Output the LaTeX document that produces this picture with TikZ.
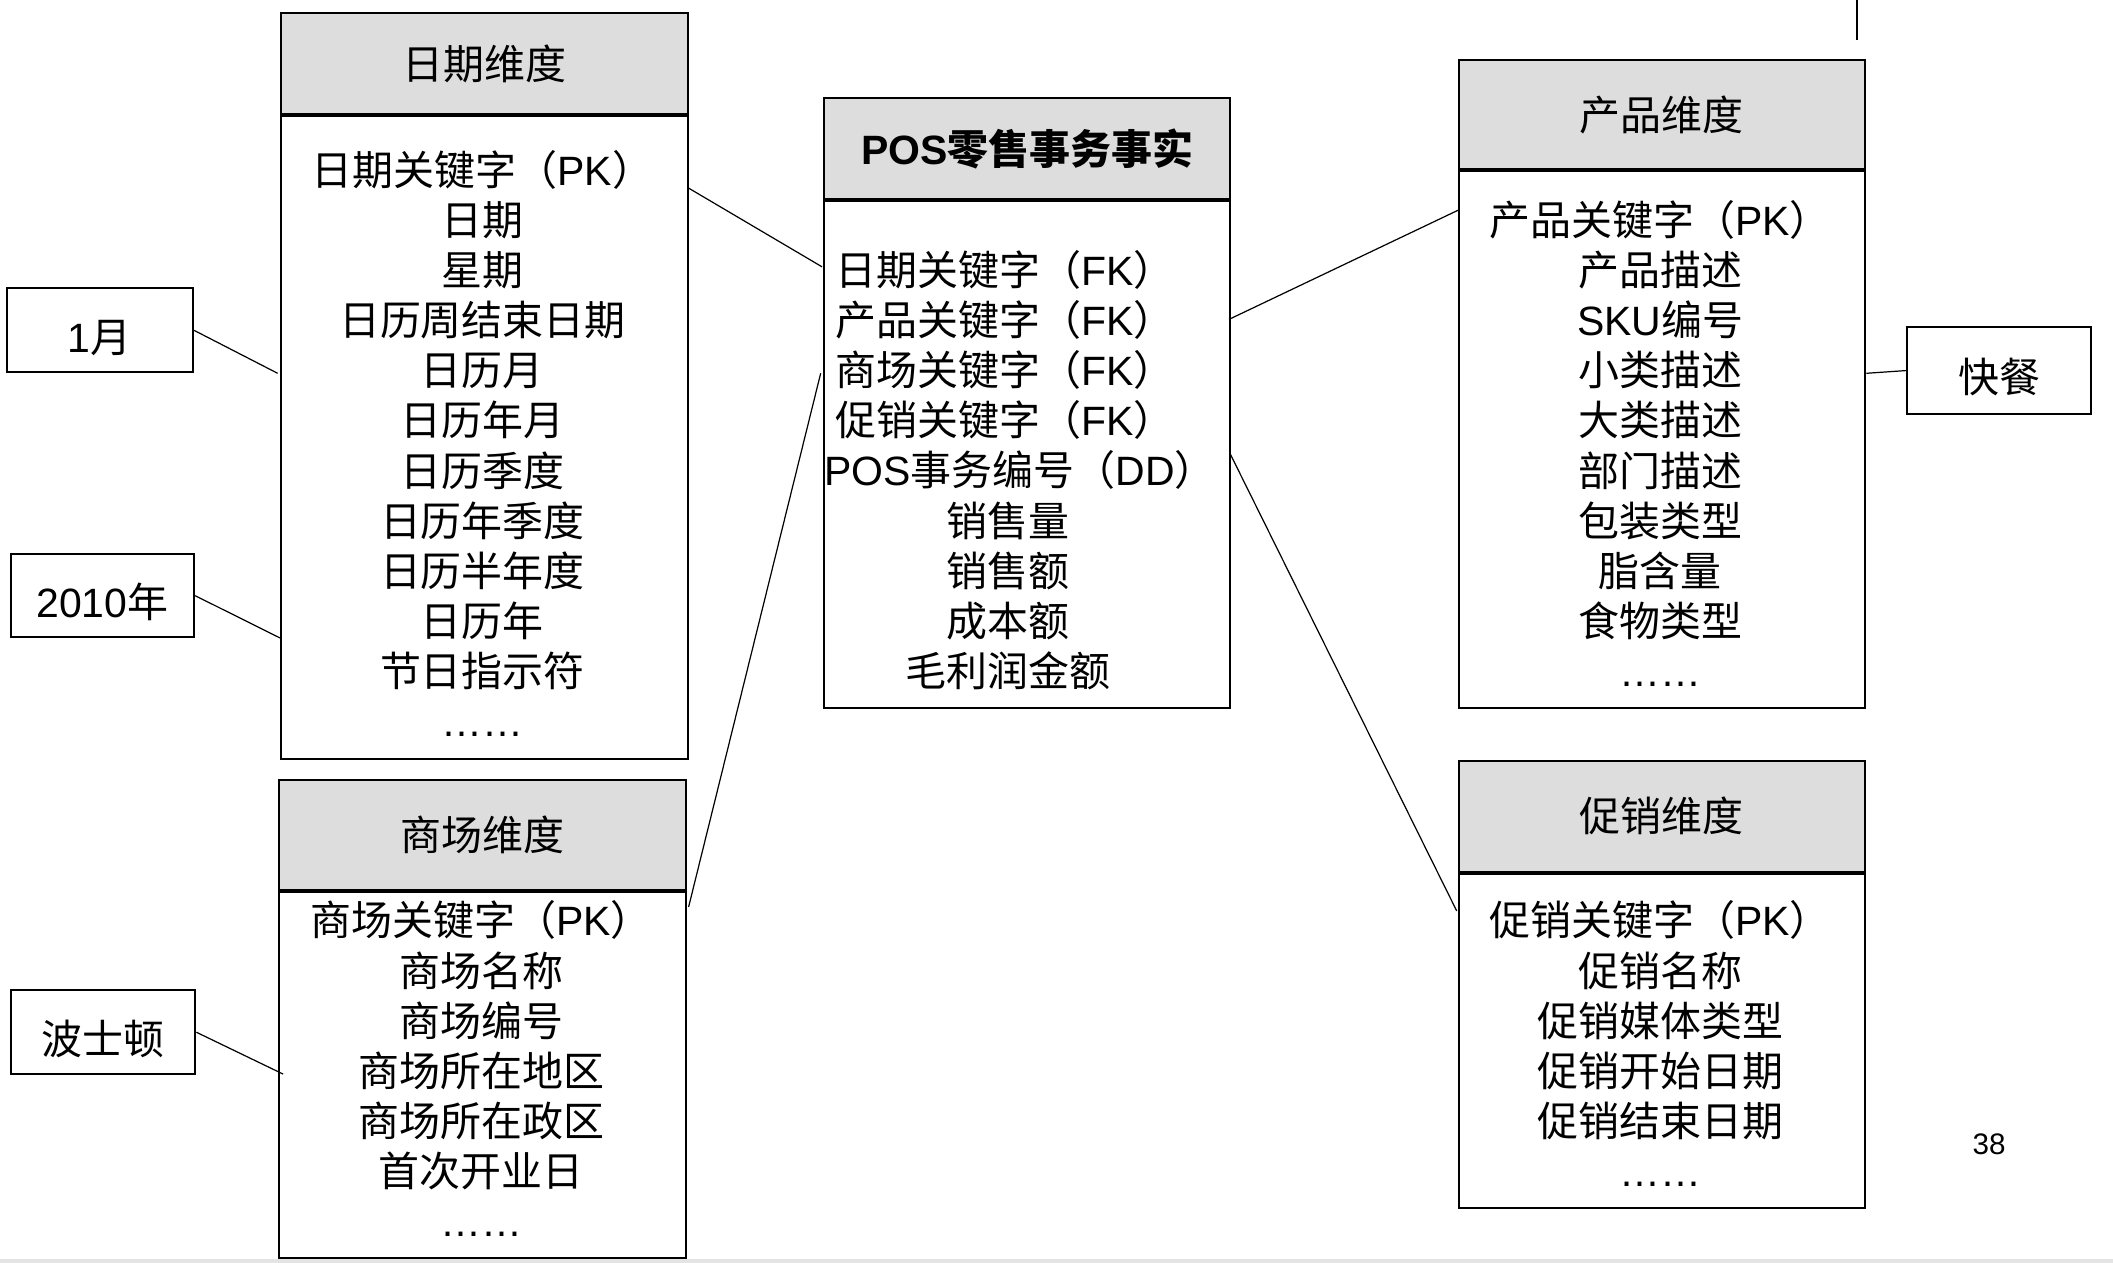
\documentclass[tikz,border=0pt]{standalone}
\usepackage{fontspec}
\setmainfont{Noto Sans CJK SC}
\newfontfamily\arialfont{Liberation Sans}
\newcommand{\en}[1]{{\arialfont #1}}
\usetikzlibrary{calc, positioning}

\definecolor{headgray}{HTML}{DDDDDD}
\definecolor{stripgray}{HTML}{E4E4E4}

\tikzset{
    cjkfont/.style = {font=\fontsize{30.4}{37}\selectfont},
    tablehead/.style = {draw, black, line width=1.5pt, fill=headgray, anchor=north west, inner sep=0pt, cjkfont},
    tablebody/.style = {draw, black, line width=1.5pt, fill=white, inner sep=0pt},
    field/.style = {anchor=base, inner sep=0pt, cjkfont},
    tagbox/.style = {draw, black, line width=1.5pt, minimum width=137pt, minimum height=62pt, text height=34pt, text depth=1pt, inner sep=0pt, cjkfont},
    link/.style = {black, line width=0.9pt}
}

\begin{document}
\begin{tikzpicture}[x=1pt, y=-1pt]
            \useasboundingbox (0, 0) rectangle (1568, 937.2);
            \fill[stripgray] (0, 934) rectangle (1568, 937.2);
            \draw[black, line width=1.2pt] (1378, 0) -- (1378, 29.7);
            
            % tables
            \node[tablehead, minimum width=302pt, minimum height=75pt] (date-head) at (208, 9) {日期维度};
            \node[tablebody, minimum width=302pt, minimum height=477pt, below=0pt of date-head] (date-body) {};
            
            \node[tablehead, minimum width=301pt, minimum height=75pt] (pos-head) at (611, 72) {\textbf{\en{POS}零售事务事实}};
            \node[tablebody, minimum width=301pt, minimum height=376pt, below=0pt of pos-head] (pos-body) {};
            
            \node[tablehead, minimum width=301pt, minimum height=81pt] (prod-head) at (1082, 44) {产品维度};
            \node[tablebody, minimum width=301pt, minimum height=398pt, below=0pt of prod-head] (prod-body) {};
            
            \node[tablehead, minimum width=302pt, minimum height=82pt] (store-head) at (206, 578) {商场维度};
            \node[tablebody, minimum width=302pt, minimum height=271pt, below=0pt of store-head] (store-body) {};
            
            \node[tablehead, minimum width=301pt, minimum height=82pt] (promo-head) at (1082, 564) {促销维度};
            \node[tablebody, minimum width=301pt, minimum height=248pt, below=0pt of promo-head] (promo-body) {};
            
            % fields
            \foreach \f [count=\i from 0] in {日期关键字（\en{PK}）, 日期, 星期, 日历周结束日期, 日历月, 日历年月, 日历季度, 日历年季度, 日历半年度, 日历年, 节日指示符, \en{……}} {
                \node[field] (date-f\i) at (358, 137.5 + 37.2 * \i) {\f};
            }
            \foreach \x/\f [count=\i from 0] in {746/日期关键字（\en{FK}）, 746/产品关键字（\en{FK}）, 746/商场关键字（\en{FK}）, 746/促销关键字（\en{FK}）, 757/\en{POS}事务编号（\en{DD}）, 748/销售量, 748/销售额, 748/成本额, 748/毛利润金额} {
                \node[field] (pos-f\i) at (\x, 211.5 + 37.25 * \i) {\f};
            }
            \foreach \f [count=\i from 0] in {产品关键字（\en{PK}）, 产品描述, \en{SKU}编号, 小类描述, 大类描述, 部门描述, 包装类型, 脂含量, 食物类型, \en{……}} {
                \node[field] (prod-f\i) at (1232, 174.5 + 37.25 * \i) {\f};
            }
            \foreach \f [count=\i from 0] in {商场关键字（\en{PK}）, 商场名称, 商场编号, 商场所在地区, 商场所在政区, 首次开业日, \en{……}} {
                \node[field] (store-f\i) at (357, 694.5 + 37.2 * \i) {\f};
            }
            \foreach \f [count=\i from 0] in {促销关键字（\en{PK}）, 促销名称, 促销媒体类型, 促销开始日期, 促销结束日期, \en{……}} {
                \node[field] (promo-f\i) at (1232, 694.5 + 37.25 * \i) {\f};
            }
            
            % attribute values
            \node[tagbox, minimum width=138pt] (tag-month) at (74, 245) {\en{1}月};
            \node[tagbox, minimum width=136pt] (tag-year) at (76, 442) {\en{2010}年};
            \node[tagbox] (tag-city) at (76.5, 766) {波士顿};
            \node[tagbox, minimum height=64pt] (tag-food) at (1483.5, 275) {快餐};
            
            \node[font=\arialfont\fontsize{22}{26}\selectfont] (page-num) at (1476, 849) {38};
            
            % connectors
            \coordinate (date-in1) at (206, 277);
            \coordinate (date-in2) at (209, 474);
            \coordinate (store-in) at (210, 797);
            \coordinate (prod-in) at (1385, 277);
            \coordinate (date-out) at (510, 139);
            \coordinate (pos-in1) at (610, 198);
            \coordinate (pos-in2) at (609, 277);
            \coordinate (store-out) at (511, 673);
            \coordinate (pos-out1) at (912, 237);
            \coordinate (prod-out) at (1082, 156);
            \coordinate (pos-out2) at (913, 337);
            \coordinate (promo-in) at (1081, 676);
            
            \draw[link] (tag-month.east) -- (date-in1);
            \draw[link] (tag-year.east) -- (date-in2);
            \draw[link] (tag-city.east) -- (store-in);
            \draw[link] (tag-food.west) -- (prod-in);
            \draw[link] (date-out) -- (pos-in1);
            \draw[link] (pos-in2) -- (store-out);
            \draw[link] (pos-out1) -- (prod-out);
            \draw[link] (pos-out2) -- (promo-in);
            
        \end{tikzpicture}
\end{document}
